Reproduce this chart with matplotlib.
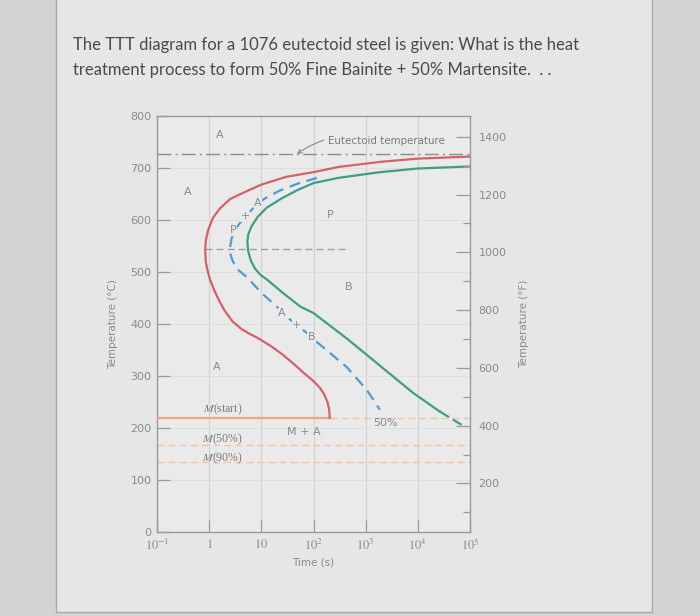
import matplotlib
matplotlib.use('Agg')
import matplotlib.pyplot as plt
from matplotlib.patches import Rectangle

plt.rcParams['mathtext.fontset'] = 'stix'

# curve points: (time in s, temperature in C)
start_t = [1e5, 1e4, 2000, 300, 100, 30, 10, 4, 2.5, 1.6, 1.18, 0.95, 0.86, 0.84, 0.86, 0.93, 1.04,
           1.25, 1.55, 2.0, 2.8, 4.2, 6, 8.2, 15, 25, 40, 65, 100, 131, 160, 185, 200, 205]
start_T = [722, 718, 712, 702, 692, 683, 668, 650, 640, 622, 604, 580, 560, 542, 520, 503, 485,
           465, 445, 425, 405, 390, 381, 374, 358, 342, 325, 306, 290, 278, 265, 250, 235, 220]

finish_t = [1e5, 1e4, 1870, 300, 100, 48, 25, 12.8, 8.5, 6.5, 5.6, 5.4, 5.6, 6.3, 7.5, 9.5, 13,
            25, 55, 100, 436, 1870, 8000, 26000]
finish_T = [703, 699, 692, 681, 671, 657, 642, 624, 606, 588, 572, 558, 540, 522, 507, 495, 485,
            461, 434, 421, 372, 320, 268, 232]
finish_ext_t = [26000, 69000]
finish_ext_T = [232, 206]

half_t = [117, 50, 23, 12, 8.6, 4.9, 3.2, 2.7, 2.5, 2.55, 2.8, 3.5, 5.3, 10, 20, 25, 48, 93, 117,
          220, 436, 1050, 1500, 1870]
half_T = [681, 670, 657, 642, 632, 607, 583, 565, 546, 535, 522, 505, 490, 460, 433, 421, 398, 375, 365,
          342, 317, 273, 250, 235]

eutectoid = 727
nose_T = 545
nose_span = [0.85, 400]
ms_T = 220
m50_T = 168
m90_T = 135
ms_end = 205

y_ticks = [0, 100, 200, 300, 400, 500, 600, 700, 800]
x_ticks = [1e-1, 1, 10, 1e2, 1e3, 1e4, 1e5]
x_labels = ['$10^{-1}$', '$1$', '$10$', '$10^2$', '$10^3$', '$10^4$', '$10^5$']
f_major = [200, 400, 600, 800, 1000, 1200, 1400]
f_minor = [100, 300, 500, 700, 900, 1100, 1300]

region_labels = [
    ('A', 1.6, 763), ('A', 0.38, 654), ('P', 205, 610), ('B', 480, 471),
    ('A', 1.4, 317), ('M + A', 66, 192), ('50%', 2350, 210),
]
pa_labels = [('P', 2.86, 581), ('+', 4.9, 607), ('A', 8.6, 632)]
ab_labels = [('A', 25, 421), ('+', 48, 398), ('B', 93, 375)]
m_labels = [('(start)', 236), ('(50%)', 178), ('(90%)', 142)]

red = '#d5606a'
green = '#3e9e84'
blue = '#4f9bd2'
orange = '#f0a57a'
orange_lt = '#f3c3a5'
gray = '#8a8a8a'
axcol = '#9a9a9a'

fig = plt.figure(figsize=(7, 6.16), dpi=100)
fig.patch.set_facecolor('#d4d3d3')
fig.patches.append(Rectangle((56 / 700, 4 / 616), 596 / 700, 1.1, transform=fig.transFigure,
                             facecolor='#e7e6e6', edgecolor='#a8a8a8', lw=1.0, zorder=-5))

fig.text(73 / 700, 1 - 50 / 616, 'The TTT diagram for a 1076 eutectoid steel is given: What is the heat',
         family='Lato', fontsize=12.0, color='#4a4a4a', va='baseline')
fig.text(73 / 700, 1 - 75 / 616, 'treatment process to form 50% Fine Bainite + 50% Martensite.  . .',
         family='Lato', fontsize=12.0, color='#4a4a4a', va='baseline')

ax = fig.add_axes([157 / 700, 1 - 532 / 616, 313 / 700, 416 / 616])
ax.set_facecolor('#eaeaea')
ax.set_xscale('log')
ax.set_xlim(0.1, 1e5)
ax.set_ylim(0, 800)

for x in x_ticks[1:-1]:
    ax.axvline(x, color='#d0d0d0', lw=0.8, zorder=1)
for y in y_ticks[1:-1]:
    ax.axhline(y, color='#dedede', lw=0.6, zorder=1)

ax.plot([0.1, 1e5], [eutectoid, eutectoid], color='#8c8c8c', lw=1.0, ls=(0, (10, 3, 1.5, 3)), zorder=2)
ax.plot(nose_span, [nose_T, nose_T], color='#a0a0a0', lw=1.0, ls=(0, (5, 3)), zorder=2)

ax.plot([0.1, ms_end], [ms_T, ms_T], color=orange, lw=1.6, zorder=3)
ax.plot([ms_end, 1e5], [ms_T, ms_T], color=orange_lt, lw=1.0, ls=(0, (5, 3)), zorder=2)
ax.plot([0.1, 1e5], [m50_T, m50_T], color=orange_lt, lw=1.0, ls=(0, (5, 3)), zorder=2)
ax.plot([0.1, 1e5], [m90_T, m90_T], color=orange_lt, lw=1.0, ls=(0, (5, 3)), zorder=2)

ax.plot(start_t, start_T, color=red, lw=1.6, zorder=4)
ax.plot(finish_t, finish_T, color=green, lw=1.6, zorder=4)
ax.plot(finish_ext_t, finish_ext_T, color=green, lw=1.6, ls=(0, (5, 2)), zorder=4)
ax.plot(half_t, half_T, color=blue, lw=1.6, ls=(0, (5, 3)), zorder=4)

for txt, x, y in region_labels:
    ax.text(x, y, txt, ha='center', va='center', fontsize=8, color=gray, zorder=5)
for txt, x, y in pa_labels + ab_labels:
    ax.text(x, y, txt, ha='center', va='center', fontsize=8, color=gray, zorder=5,
            bbox=dict(boxstyle='square,pad=0.05', fc='#eaeaea', ec='none'))

for txt, y in m_labels:
    ax.text(1.8, y, r'$\mathit{M}$' + txt, ha='center', va='center', fontsize=8.5,
            color='#7a7a7a', family='Liberation Serif', zorder=5)

ax.annotate('Eutectoid temperature', xy=(48, eutectoid), xytext=(189, 752),
            fontsize=7.4, color='#7a7a7a', va='center', ha='left',
            arrowprops=dict(arrowstyle='->', color='#8a8a8a', lw=0.8,
                            connectionstyle='arc3,rad=0.25', shrinkA=1, shrinkB=0))

for s in ax.spines.values():
    s.set_color(axcol)
    s.set_linewidth(1.0)

ax.set_yticks(y_ticks)
ax.set_yticklabels([str(v) for v in y_ticks], fontsize=8, color=gray)
ax.set_xticks(x_ticks)
ax.set_xticklabels(x_labels, fontsize=9, color=gray)
ax.minorticks_off()
ax.tick_params(axis='both', direction='in', length=9, width=0.9, color=axcol, pad=4)
ax.set_xlabel('Time (s)', fontsize=7.5, color=gray, labelpad=3)
ax.set_ylabel('Temperature (°C)', fontsize=7.5, color=gray, labelpad=9)

axf = ax.twinx()
axf.set_ylim(32, 1472)
axf.set_yticks(f_major)
axf.set_yticks(f_minor, minor=True)
axf.set_yticklabels([str(v) for v in f_major], fontsize=8, color=gray)
axf.tick_params(axis='y', which='major', direction='in', length=10, width=0.9, color=axcol, pad=6)
axf.tick_params(axis='y', which='minor', direction='in', length=5, width=0.9, color=axcol)
axf.set_ylabel('Temperature (°F)', fontsize=7.5, color=gray, labelpad=9, rotation=90)
for s in axf.spines.values():
    s.set_visible(False)

fig.savefig('out.png', dpi=100, facecolor=fig.get_facecolor())
